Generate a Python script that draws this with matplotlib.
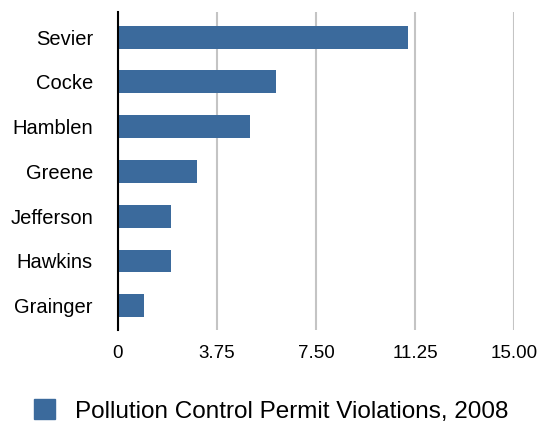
import matplotlib.pyplot as plt
from matplotlib.patches import Patch

plt.rcParams['font.family'] = ['Liberation Sans', 'DejaVu Sans']

counties = ['Sevier', 'Cocke', 'Hamblen', 'Greene', 'Jefferson', 'Hawkins', 'Grainger']
violations = [11, 6, 5, 3, 2, 2, 1]
xticks = [0, 3.75, 7.5, 11.25, 15]
xtick_labels = ['0', '3.75', '7.50', '11.25', '15.00']
series_name = 'Pollution Control Permit Violations, 2008'
bar_color = '#3b6a9c'

fig = plt.figure(figsize=(5.43, 4.23), dpi=100)
ax = fig.add_axes([0.2173, 0.22, 0.7293, 0.7516])

# plot top-down, so reverse order
pos = list(range(len(counties)))[::-1]
ax.barh(pos, violations, height=0.51, color=bar_color, zorder=3)

ax.set_xlim(0, 15)
ax.set_ylim(-0.54, 6.56)
ax.set_yticks(pos)
ax.set_yticklabels(counties, fontsize=14.5)
ax.set_xticks(xticks)
ax.set_xticklabels(xtick_labels, fontsize=13.5)
ax.tick_params(axis='y', length=0, pad=18)
ax.tick_params(axis='x', length=0, pad=11)

ax.grid(axis='x', color='#c4c4c4', linewidth=1.5, zorder=0)
for s in ['top', 'right', 'bottom']:
    ax.spines[s].set_visible(False)
ax.spines['left'].set_color('black')
ax.spines['left'].set_linewidth(1.5)
ax.spines['left'].set_zorder(4)

fig.legend(handles=[Patch(color=bar_color, label=series_name)],
           loc='center', bbox_to_anchor=(0.5, 1 - 411 / 423), frameon=False,
           fontsize=17.5, handlelength=0.85, handleheight=0.85, handletextpad=0.85)

fig.savefig('out.png', dpi=100)
